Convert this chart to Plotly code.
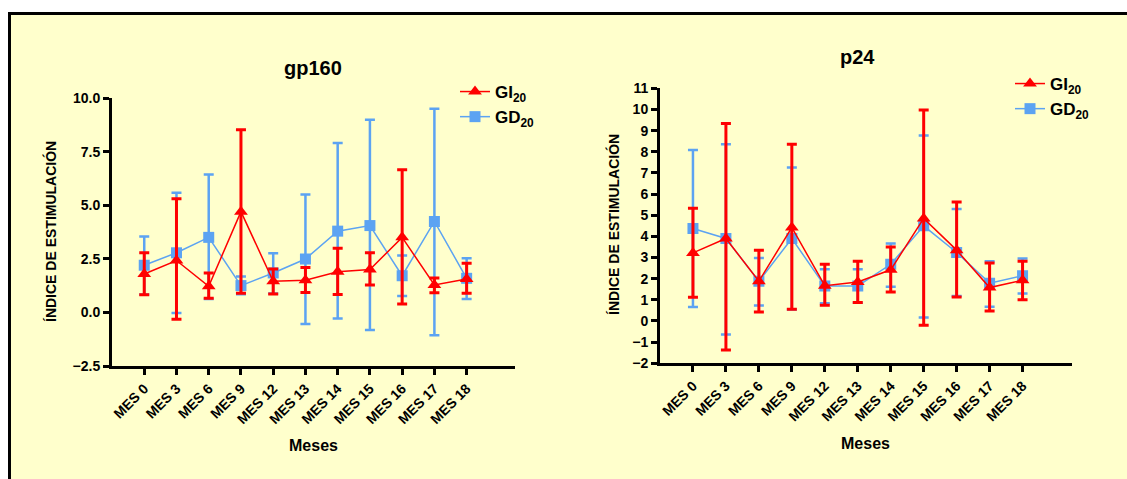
import plotly.graph_objects as go

# Categories (months of follow-up)
meses = ["MES 0", "MES 3", "MES 6", "MES 9", "MES 12", "MES 13",
         "MES 14", "MES 15", "MES 16", "MES 17", "MES 18"]

# gp160 — stimulation index: mean, upper and lower bar ends
gp160_gi_mean = [1.79, 2.42, 1.22, 4.70, 1.45, 1.50, 1.90, 2.00, 3.50, 1.28, 1.56]
gp160_gi_hi = [2.78, 5.30, 1.84, 8.52, 2.03, 2.09, 2.99, 2.78, 6.65, 1.61, 2.29]
gp160_gi_lo = [0.82, -0.32, 0.66, 0.89, 0.86, 0.93, 0.83, 1.28, 0.39, 0.92, 0.89]

gp160_gd_mean = [2.20, 2.78, 3.50, 1.25, 1.84, 2.49, 3.79, 4.05, 1.71, 4.24, 1.59]
gp160_gd_hi = [3.54, 5.58, 6.43, 1.67, 2.76, 5.50, 7.90, 8.99, 2.65, 9.50, 2.52]
gp160_gd_lo = [0.84, -0.03, 0.62, 0.85, 0.88, -0.54, -0.28, -0.82, 0.77, -1.06, 0.63]

# p24 — stimulation index: mean, upper and lower bar ends
p24_gi_mean = [3.22, 3.90, 1.88, 4.42, 1.67, 1.84, 2.42, 4.85, 3.35, 1.58, 1.93]
p24_gi_hi = [5.33, 9.34, 3.35, 8.35, 2.68, 2.83, 3.50, 9.97, 5.62, 2.74, 2.83]
p24_gi_lo = [1.12, -1.37, 0.43, 0.55, 0.74, 0.87, 1.37, -0.20, 1.14, 0.47, 1.00]

p24_gd_mean = [4.37, 3.90, 1.88, 3.90, 1.65, 1.66, 2.68, 4.50, 3.24, 1.79, 2.14]
p24_gd_hi = [8.08, 8.36, 2.98, 7.26, 2.45, 2.45, 3.66, 8.77, 5.30, 2.83, 2.95]
p24_gd_lo = [0.66, -0.64, 0.73, 0.54, 0.84, 0.86, 1.62, 0.16, 1.18, 0.67, 1.30]

gp160_ticks = [-2.5, 0.0, 2.5, 5.0, 7.5, 10.0]
p24_ticks = list(range(-2, 12))

RED = "#FF0000"
BLUE = "#5CA3F2"
BG = "#FFFFCC"
FONT = "Arial, Liberation Sans, Helvetica, sans-serif"

W, H = 1127, 479


def px_x(v):
    return v / W


def px_y(v):
    return 1 - v / H


def series(x, mean, hi, lo, color, symbol, msize, name, xa, ya, legend, rank, ebw):
    return go.Scatter(
        x=x, y=mean, mode="lines+markers", name=name,
        xaxis=xa, yaxis=ya, legend=legend, legendrank=rank,
        line=dict(color=color, width=1.5),
        marker=dict(color=color, symbol=symbol, size=msize, line=dict(width=0)),
        error_y=dict(type="data", symmetric=False,
                     array=[h - m for h, m in zip(hi, mean)],
                     arrayminus=[m - l for m, l in zip(mean, lo)],
                     color=color, thickness=ebw, width=5),
        hoverinfo="skip",
    )


fig = go.Figure()

# gp160 panel
fig.add_trace(series(meses, gp160_gd_mean, gp160_gd_hi, gp160_gd_lo, BLUE, "square", 11,
                     "GD<sub>20</sub>", "x", "y", "legend", 2, 2.5))
fig.add_trace(series(meses, gp160_gi_mean, gp160_gi_hi, gp160_gi_lo, RED, "triangle-up", 12,
                     "GI<sub>20</sub>", "x", "y", "legend", 1, 3))
# p24 panel
fig.add_trace(series(meses, p24_gd_mean, p24_gd_hi, p24_gd_lo, BLUE, "square", 11,
                     "GD<sub>20</sub>", "x2", "y2", "legend2", 2, 2.5))
fig.add_trace(series(meses, p24_gi_mean, p24_gi_hi, p24_gi_lo, RED, "triangle-up", 12,
                     "GI<sub>20</sub>", "x2", "y2", "legend2", 1, 3))

tickfont = dict(family=FONT, size=14, color="black", weight="bold")

xcommon = dict(type="category", range=[-1, 11.5], showline=True, linecolor="black",
               linewidth=3, ticks="outside", ticklen=6, tickwidth=3, tickcolor="black",
               tickangle=-45, tickfont=tickfont, showgrid=False, zeroline=False,
               fixedrange=True, automargin=False)
ycommon = dict(showline=True, linecolor="black", linewidth=3, ticks="outside",
               ticklen=6, tickwidth=3, tickcolor="black", tickfont=tickfont,
               showgrid=False, zeroline=False, fixedrange=True, automargin=False)

legfont = dict(family=FONT, size=17, color="black", weight="bold")

fig.update_layout(
    width=W, height=H, autosize=False,
    margin=dict(l=0, r=0, t=0, b=0, pad=0, autoexpand=False),
    paper_bgcolor=BG,
    plot_bgcolor="rgba(0,0,0,0)",
    font=dict(family=FONT, color="black"),
    xaxis=dict(domain=[px_x(112), px_x(515)], anchor="y", **xcommon),
    yaxis=dict(domain=[px_y(366), px_y(98)], anchor="x", range=[-2.5, 10.0],
               tickvals=gp160_ticks, tickformat=".1f", **ycommon),
    xaxis2=dict(domain=[px_x(660), px_x(1072)], anchor="y2", **xcommon),
    yaxis2=dict(domain=[px_y(363.3), px_y(88.3)], anchor="x2", range=[-2, 11],
                tickvals=p24_ticks, **ycommon),
    legend=dict(x=px_x(455), y=px_y(74), xanchor="left", yanchor="top",
                bgcolor="rgba(0,0,0,0)", font=legfont, tracegroupgap=0),
    legend2=dict(x=px_x(1010), y=px_y(66), xanchor="left", yanchor="top",
                 bgcolor="rgba(0,0,0,0)", font=legfont, tracegroupgap=0),
    shapes=[
        # white strips above and to the left of the framed panel
        dict(type="rect", xref="paper", yref="paper", x0=0, x1=1, y0=px_y(12), y1=1,
             fillcolor="white", line=dict(width=0), layer="below"),
        dict(type="rect", xref="paper", yref="paper", x0=0, x1=px_x(8), y0=0, y1=1,
             fillcolor="white", line=dict(width=0), layer="below"),
        # frame edges
        dict(type="line", xref="paper", yref="paper", x0=px_x(8), x1=1,
             y0=px_y(13.5), y1=px_y(13.5), line=dict(color="black", width=3), layer="below"),
        dict(type="line", xref="paper", yref="paper", x0=px_x(9.5), x1=px_x(9.5),
             y0=0, y1=px_y(12), line=dict(color="black", width=3), layer="below"),
    ],
    showlegend=True,
)

titles = [
    ("gp160", 313, 68, 20, 0),
    ("p24", 857, 57, 20, 0),
    ("Meses", 313, 445, 16, 0),
    ("Meses", 865, 443, 16, 0),
    ("ÍNDICE DE ESTIMULACIÓN", 50, 232, 14, -90),
    ("ÍNDICE DE ESTIMULACIÓN", 613, 225, 14, -90),
]
for text, x, y, size, ang in titles:
    fig.add_annotation(text=text, xref="paper", yref="paper", x=px_x(x), y=px_y(y),
                       xanchor="center", yanchor="middle", showarrow=False, textangle=ang,
                       font=dict(family=FONT, size=size, color="black", weight="bold"))

fig.write_html("out.html")
